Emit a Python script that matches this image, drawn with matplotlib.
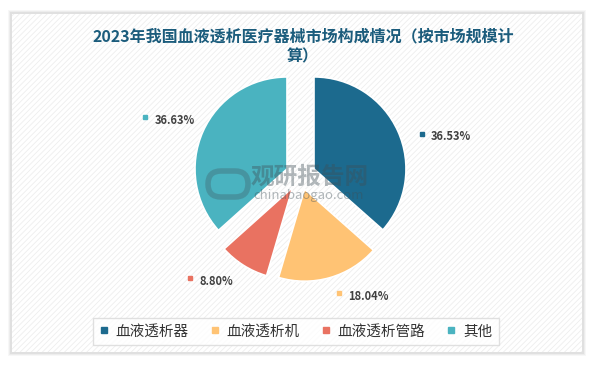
import matplotlib.pyplot as plt
import numpy as np
from matplotlib.patches import Rectangle, FancyBboxPatch
from matplotlib.lines import Line2D

plt.rcParams['font.family'] = ['Noto Sans CJK SC', 'DejaVu Sans']
plt.rcParams['hatch.color'] = '#EEEEEE'
plt.rcParams['hatch.linewidth'] = 0.6

# data
categories = ['血液透析器', '血液透析机', '血液透析管路', '其他']
shares = [36.53, 18.04, 8.80, 36.63]
colors = ['#1C6A8E', '#FFC374', '#E97261', '#4AB3C0']
title = '2023年我国血液透析医疗器械市场构成情况（按市场规模计\n算）'

W, H = 594, 366
fig = plt.figure(figsize=(W / 100, H / 100), dpi=100)
ax = fig.add_axes([0, 0, 1, 1])

# card background with soft shadow
for i, a in enumerate([0.03, 0.04, 0.05]):
    g = 4 - i
    ax.add_patch(Rectangle((12 - g, 14 - g), 570 + 2 * g, 338 + 2 * g,
                           facecolor='#000000', alpha=a, edgecolor='none', zorder=0))
ax.add_patch(Rectangle((12, 14), 570, 338, facecolor='white', edgecolor='none', zorder=0.5))
ax.add_patch(Rectangle((12, 14), 570, 338, facecolor='none', edgecolor='#EEEEEE',
                       linewidth=0, hatch='//////', zorder=0.6))

# pie (axes in pixel units)
cx, cy, r = 300.5, H - 175, 92
expl = 14.8
wedges, _ = ax.pie(shares, colors=colors, startangle=90, counterclock=False,
                   center=(cx, cy), radius=r, explode=[expl] * len(shares),
                   wedgeprops=dict(edgecolor='white', linewidth=1.2), frame=True)
ax.set_xlim(0, W)
ax.set_ylim(0, H)
ax.set_aspect('auto')
ax.axis('off')

# labels with small colored square markers (polar placement around the pie)
label_dist = [1.39, 1.35, 1.64, 1.80]
label_shift = [-5.5, 2.0, -14.6, 3.6]
for w, v, c, d, s in zip(wedges, shares, colors, label_dist, label_shift):
    ang = np.deg2rad((w.theta1 + w.theta2) / 2 + s)
    x = cx + d * r * np.cos(ang)
    y = cy + d * r * np.sin(ang)
    ax.plot(x, y, marker='s', markersize=2.3, color=c, zorder=5)
    ax.text(x + 9.5, y - 3, f'{v:.2f}%', ha='left', va='center', fontsize=8,
            fontweight='bold', color='#404040', zorder=5)

# watermark
ax.text(310, H - 177, '观研报告网', fontsize=17, fontweight='bold', color='#3F4F57',
        alpha=0.4, ha='center', va='center', zorder=6)
ax.text(309, H - 196, 'chinabaogao.com', fontsize=9.5, color='#3F4F57',
        alpha=0.4, ha='center', va='center', zorder=6)
ax.add_patch(FancyBboxPatch((208, H - 197), 40, 26, boxstyle='round,pad=0,rounding_size=13',
                            facecolor='none', edgecolor='#3F4F57', linewidth=4,
                            alpha=0.3, zorder=6))

# title
ax.text(303, H - 46, title, ha='center', va='center', fontsize=11.5, fontweight='bold',
        color='#1B5C7C', linespacing=1.3, zorder=6)

# legend
handles = [Line2D([], [], marker='s', linestyle='none', markersize=5, color=c)
           for c in colors]
leg = fig.legend(handles, categories, loc='center', bbox_to_anchor=(0.498, 0.094),
                 ncol=4, frameon=True, fancybox=False, fontsize=10.5,
                 handlelength=0.6, handletextpad=0.5, columnspacing=1.5,
                 borderpad=0.45, labelcolor='#333333')
leg.get_frame().set_edgecolor('#D9D9D9')
leg.get_frame().set_linewidth(1.0)

fig.savefig('out.png', dpi=100)
